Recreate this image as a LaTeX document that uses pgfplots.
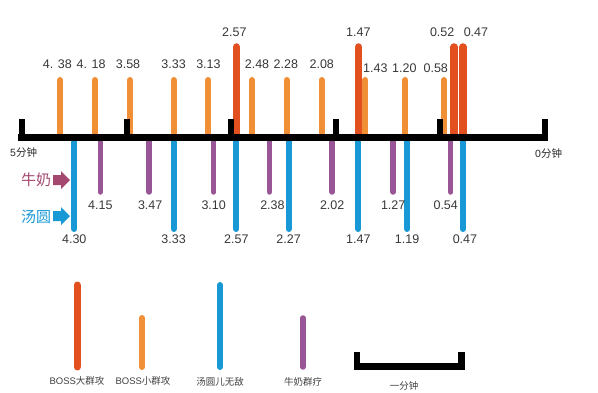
\documentclass[border=0pt]{standalone}
\usepackage{pgfplots}
\pgfplotsset{compat=1.18}
\usepackage{fontspec}
\setmainfont{Liberation Sans}
\newfontfamily\cjk{Noto Sans CJK SC}
\definecolor{cOrange}{RGB}{240,143,54}
\definecolor{cRed}{RGB}{225,80,30}
\definecolor{cBlue}{RGB}{25,152,214}
\definecolor{cPurple}{RGB}{152,86,150}
\definecolor{cMilk}{RGB}{165,72,112}
\definecolor{cTxt}{RGB}{55,55,55}
\newcommand{\lab}[4]{\node[font=\fontsize{12.5}{14}\selectfont, text=cTxt, inner sep=0pt, xshift=#3pt] at (axis cs:#1,#2) {#4};}
\begin{document}
\begin{tikzpicture}
\begin{axis}[scale only axis, width=598pt, height=392pt,
  xmin=-30.5, xmax=312.6, x dir=reverse, ymin=-255, ymax=137,
  hide axis, clip=false]
% BOSS small group attack (orange), times in seconds remaining
\addplot[ycomb, draw=cOrange, line width=6pt, line cap=round, mark=none] coordinates {
(278,57) (258,57) (238,57) (213,57) (193,57) (168,57) (148,57) (128,57) (103,57) (80,57) (58,57)};
% BOSS big group attack (red)
\addplot[ycomb, draw=cRed, line width=7.5pt, line cap=round, mark=none] coordinates {
(177,90) (107,90) (52,90) (47,90)};
% Tangyuan invincible (blue)
\addplot[ycomb, draw=cBlue, line width=6pt, line cap=round, mark=none] coordinates {
(270,-92) (213,-92) (177,-92) (147,-92) (107,-92) (79,-92) (47,-92)};
% Milk group heal (purple)
\addplot[ycomb, draw=cPurple, line width=5.5pt, line cap=round, mark=none] coordinates {
(255,-55) (227,-55) (190,-55) (158,-55) (122,-55) (87,-55) (54,-55)};
% timeline
\addplot[ycomb, draw=black, line width=6pt, mark=none] coordinates {
(300,18) (240,18) (180,18) (120,18) (60,18) (0,18)};
\addplot[draw=black, line width=7pt, line cap=rect, mark=none] coordinates {(300,0) (0,0)};
% legend samples
\addplot[draw=cRed, line width=7pt, line cap=round, mark=none] coordinates {(268.4,-230) (268.4,-148)};
\addplot[draw=cOrange, line width=6pt, line cap=round, mark=none] coordinates {(231.1,-230) (231.1,-181)};
\addplot[draw=cBlue, line width=6pt, line cap=round, mark=none] coordinates {(186.4,-230) (186.4,-148)};
\addplot[draw=cPurple, line width=5.5pt, line cap=round, mark=none] coordinates {(138.8,-230) (138.8,-181)};
% one-minute scale bar
\addplot[draw=black, line width=6.5pt, line join=miter, mark=none] coordinates {(107.8,-215) (107.8,-229.5) (47.8,-229.5) (47.8,-215)};
% labels orange
\lab{278}{72.5}{-3}{4. 38}
\lab{258}{72.5}{-4}{4. 18}
\lab{238}{72.5}{-2}{3.58}
\lab{213}{72.5}{0}{3.33}
\lab{193}{72.5}{0}{3.13}
\lab{168}{72.5}{5}{2.48}
\lab{148}{72.5}{-1}{2.28}
\lab{128}{72.5}{0}{2.08}
\lab{103}{69}{10}{1.43}
\lab{80}{69}{-1}{1.20}
\lab{58}{69}{-8}{0.58}
% labels red
\lab{177}{105}{-2}{2.57}
\lab{107}{105}{0}{1.47}
\lab{52}{105}{-12}{0.52}
\lab{47}{105}{13}{0.47}
% labels blue
\lab{270}{-102.5}{0}{4.30}
\lab{213}{-102.5}{0}{3.33}
\lab{177}{-102.5}{0}{2.57}
\lab{147}{-102.5}{0}{2.27}
\lab{107}{-102.5}{0}{1.47}
\lab{79}{-102.5}{0}{1.19}
\lab{47}{-102.5}{2}{0.47}
% labels purple
\lab{255}{-68}{0}{4.15}
\lab{227}{-68}{1}{3.47}
\lab{190}{-68}{0}{3.10}
\lab{158}{-68}{3}{2.38}
\lab{122}{-68}{0}{2.02}
\lab{87}{-68}{0}{1.27}
\lab{54}{-68}{-5}{0.54}
\end{axis}
\path (0,0) rectangle (598pt,392pt);
\begin{scope}[x=1pt,y=-1pt,yshift=392pt]
\node[anchor=west, inner sep=0pt, text=black!85, font=\fontsize{10.5}{12}\selectfont] at (10,153) {5{\cjk 分钟}};
\node[anchor=west, inner sep=0pt, text=black!85, font=\fontsize{10.5}{12}\selectfont] at (535,154) {0{\cjk 分钟}};
\node[anchor=west, inner sep=0pt, text=cMilk, font=\fontsize{15}{17}\selectfont\cjk] at (21,180) {牛奶};
\fill[cMilk] (53,175)--(61,175)--(61,171)--(70,180)--(61,189)--(61,185)--(53,185)--cycle;
\node[anchor=west, inner sep=0pt, text=cBlue, font=\fontsize{15}{17}\selectfont\cjk] at (21,217) {汤圆};
\fill[cBlue] (53,211)--(61,211)--(61,207)--(70,216)--(61,225)--(61,221)--(53,221)--cycle;
\node[inner sep=0pt, text=black!75, font=\fontsize{9.5}{11}\selectfont] at (77,381) {BOSS{\cjk 大群攻}};
\node[inner sep=0pt, text=black!75, font=\fontsize{9.5}{11}\selectfont] at (143,381) {BOSS{\cjk 小群攻}};
\node[inner sep=0pt, text=black!75, font=\fontsize{9.5}{11}\selectfont\cjk] at (220,382) {汤圆儿无敌};
\node[inner sep=0pt, text=black!75, font=\fontsize{9.5}{11}\selectfont\cjk] at (303,382) {牛奶群疗};
\node[inner sep=0pt, text=black!75, font=\fontsize{9.5}{11}\selectfont\cjk] at (404,386) {一分钟};
\end{scope}
\end{tikzpicture}
\end{document}
